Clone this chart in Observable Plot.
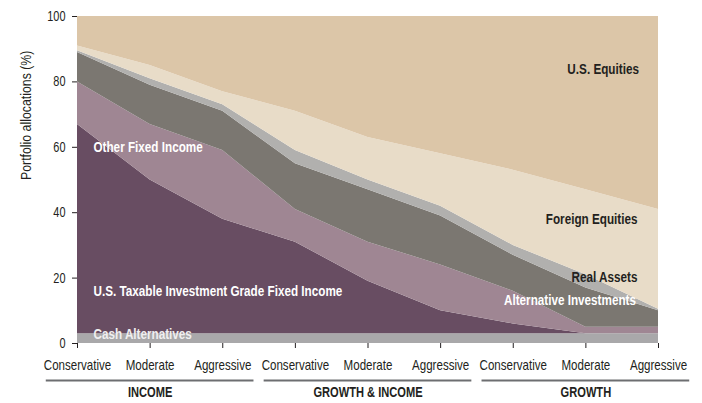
<!DOCTYPE html>
<html>
<head>
<meta charset="utf-8">
<script src="https://cdn.jsdelivr.net/npm/d3@7"></script>
<script src="https://cdn.jsdelivr.net/npm/@observablehq/plot@0.6"></script>
<style>
  html, body { margin: 0; padding: 0; background: #ffffff; }
  #chart { width: 702px; height: 403px; }
</style>
</head>
<body>
<div id="chart"></div>
<script>
// ---- Data ----
const profiles = ["Conservative", "Moderate", "Aggressive", "Conservative", "Moderate", "Aggressive", "Conservative", "Moderate", "Aggressive"];
const groups = ["INCOME", "GROWTH & INCOME", "GROWTH"];
const classes = ["Cash Alternatives", "U.S. Taxable Investment Grade Fixed Income", "Other Fixed Income", "Alternative Investments", "Real Assets", "Foreign Equities", "U.S. Equities"];

const cashAlternatives       = [3, 3, 3, 3, 3, 3, 3, 3, 3];
const usTaxableIG            = [64, 47, 35, 28, 16, 7, 3, 0, 0];
const otherFixedIncome       = [13, 17, 21, 10, 12, 14, 10, 2, 2];
const alternativeInvestments = [9, 12, 12, 14, 16, 15, 11, 12, 5];
const realAssets             = [0.5, 2, 2, 4, 3, 3, 3, 4, 0.5];
const foreignEquities        = [1.5, 4, 4, 12, 13, 16, 23, 26, 30.5];
const usEquities             = [9, 15, 23, 29, 37, 42, 47, 53, 59];

const yTicks = [0, 20, 40, 60, 80, 100];
const yLabel = "Portfolio allocations (%)";

// In-chart area labels (anchored in data units)
const areaLabels = ["U.S. Equities", "Foreign Equities", "Real Assets", "Alternative Investments", "Other Fixed Income", "U.S. Taxable Investment Grade Fixed Income", "Cash Alternatives"];
const areaLabelX = [7.73, 7.71, 7.71, 7.69, 0.22, 0.22, 0.22];
const areaLabelY = [84, 38, 20.2, 13.3, 60, 16.1, 2.8];

// ---- Build table ----
const series = [cashAlternatives, usTaxableIG, otherFixedIncome, alternativeInvestments, realAssets, foreignEquities, usEquities];
const table = [];
classes.forEach((cls, c) => {
  series[c].forEach((v, i) => table.push({cls, i, value: v}));
});
const colors = ["#a9a8aa", "#684d62", "#9f8693", "#7b7771", "#b1b0ae", "#e8dcc8", "#dcc6a8"];

const labels = areaLabels.map((text, k) => ({text, x: areaLabelX[k], y: areaLabelY[k], k}));
const FONT = "'Liberation Sans', Arial, sans-serif";
const INK = "#231f20";
const halfSpan = 1.43;

const chart = Plot.plot({
  width: 702,
  height: 403,
  marginTop: 16,
  marginLeft: 77,
  marginRight: 44,
  marginBottom: 60,
  style: {fontFamily: FONT, fontSize: "14px", color: INK, background: "#ffffff", overflow: "visible"},
  x: {type: "linear", domain: [0, 8], axis: null},
  y: {domain: [0, 100], axis: null},
  color: {domain: classes, range: colors},
  marks: [
    Plot.areaY(table, {x: "i", y: "value", fill: "cls", order: classes, curve: "linear"}),
    Plot.axisX(d3.range(profiles.length), {tickSize: 5, tickPadding: 11, tickFormat: (i) => profiles[i], label: null, stroke: INK, fill: INK, fontSize: 15}),
    Plot.axisY(yTicks, {tickSize: 5, tickPadding: 7, label: null, stroke: INK, fill: INK, fontSize: 14}),
    Plot.text([yLabel], {frameAnchor: "left", rotate: -90, dx: -51, fill: INK, fontSize: 14}),
    // group separators and labels
    Plot.ruleY(groups, {y: () => 0, x1: (d, k) => k * 3 + 1 - halfSpan, x2: (d, k) => k * 3 + 1 + halfSpan, dy: 37, stroke: "#6d6e71", strokeWidth: 2}),
    Plot.text(groups, {x: (d, k) => k * 3 + 1, frameAnchor: "bottom", dy: 53, fontWeight: "bold", fill: INK, fontSize: 15}),
    // area labels
    Plot.text(labels.filter(d => d.k < 3), {x: "x", y: "y", text: "text", textAnchor: "end", fontWeight: "bold", fill: INK, fontSize: 15}),
    Plot.text(labels.filter(d => d.k === 3), {x: "x", y: "y", text: "text", textAnchor: "end", fontWeight: "bold", fill: "#ffffff", fontSize: 15}),
    Plot.text(labels.filter(d => d.k >= 4 && d.k < 6), {x: "x", y: "y", text: "text", textAnchor: "start", fontWeight: "bold", fill: "#ffffff", fontSize: 15}),
    Plot.text(labels.filter(d => d.k === 6), {x: "x", y: "y", text: "text", textAnchor: "start", fontWeight: "bold", fill: "#f0eff0", fontSize: 15})
  ]
});
document.getElementById("chart").appendChild(chart);

// Emulate the condensed typeface of the original by horizontally compressing glyphs
const axisSqueeze = {"x-axis tick label": 0.77, "y-axis tick label": 0.78};
const squeezeFor = (t) => {
  const s = t.textContent;
  if (s === yLabel) return 0.88;
  if (groups.includes(s)) return 0.74;
  if (areaLabels.includes(s)) return 0.78;
  const g = t.closest("g[aria-label]");
  return g ? axisSqueeze[g.getAttribute("aria-label")] : undefined;
};
chart.querySelectorAll("text").forEach((t) => {
  const f = squeezeFor(t);
  if (!f) return;
  const len = t.getComputedTextLength();
  if (len > 0) {
    t.setAttribute("textLength", (len * f).toFixed(2));
    t.setAttribute("lengthAdjust", "spacingAndGlyphs");
  }
});
</script>
</body>
</html>
